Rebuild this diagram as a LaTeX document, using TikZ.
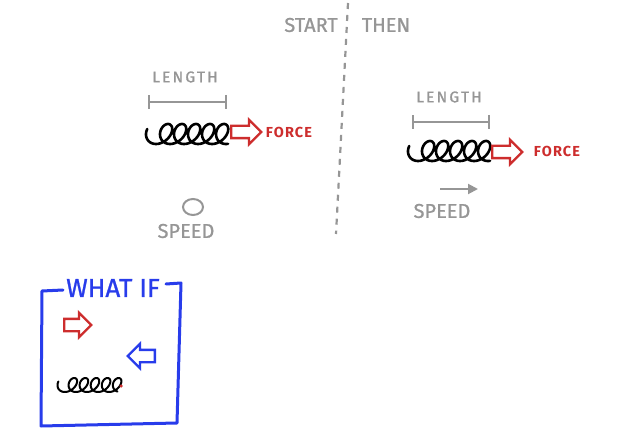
\documentclass[tikz,border=0pt]{standalone}
\usepackage{fontspec}
\setmainfont{Fira Sans}
\newfontfamily\hand[FakeBold=1]{Fira Sans}
\newfontfamily\widehand[LetterSpace=14, FakeBold=1]{Fira Sans}
\newfontfamily\tighthand[LetterSpace=8]{Fira Sans}
\usepackage{tikz}
\usetikzlibrary{arrows.meta}
\usetikzlibrary{shapes.arrows}
\usetikzlibrary{shapes.geometric}

\definecolor{pencil}{RGB}{150,150,150}
\definecolor{marker}{RGB}{205,45,45}
\definecolor{ink}{RGB}{40,60,235}

\tikzset{
  bigword/.style   ={font=\hand\fontsize{20}{20}\selectfont, text=pencil, inner sep=0pt},
  smallword/.style ={font=\widehand\fontsize{15.5}{15.5}\selectfont, text=pencil, inner sep=0pt},
  forceword/.style ={font=\tighthand\bfseries\fontsize{14.5}{14.5}\selectfont, text=marker, inner sep=0pt},
  spring/.style    ={draw=black, line width=2.6pt, line cap=round, line join=round, smooth, samples=260},
  push/.style      ={single arrow, draw=marker, line width=2.4pt, minimum height=30pt,
                     minimum width=24pt, inner sep=5pt, single arrow head extend=6pt, anchor=tail},
  ruler/.style     ={draw=pencil, line width=2.4pt, {Bar[width=14pt]}-{Bar[width=14pt]}},
  frame/.style     ={draw=ink, line width=3pt, line join=round, line cap=round},
}

\begin{document}
\begin{tikzpicture}[x=1pt, y=-1pt]
   \useasboundingbox (0,0) rectangle (629,438);

   \node [bigword] (start) at (311,25) {START};
   \node [bigword] (then)  at (386,25) {THEN};
   \coordinate (cuttop) at (348,3);
   \coordinate (cutbot) at (336,234);
   \draw [pencil, line width=2.2pt, dash pattern=on 6pt off 6pt] (cuttop) -- (cutbot);

   \node [smallword] (lengthA) at (185,77) {LENGTH};
   \coordinate (barAl) at (148,102);
   \coordinate (barAr) at (227,102);
   \draw [ruler] (barAl) -- (barAr);
   \draw [spring] plot [domain=240:2170] ({155+(\x-270)/25.7+9*sin(\x)-2.5*cos(\x)}, {134+10*cos(\x)});
   \node [push] (pushA) at (230,132) {};
   \node [forceword] (forceA) at (289,132) {FORCE};
   \node [draw=pencil, line width=2pt, ellipse, minimum width=20pt, minimum height=16pt, inner sep=0pt] (still) at (193,207) {};
   \node [bigword] (speedA) at (186,231) {SPEED};

   \node [smallword] (lengthB) at (449,97) {LENGTH};
   \coordinate (barBl) at (412,122);
   \coordinate (barBr) at (490,122);
   \draw [ruler] (barBl) -- (barBr);
   \draw [spring] plot [domain=240:2170] ({417+(\x-270)/25.7+9*sin(\x)-2.5*cos(\x)}, {151+10*cos(\x)});
   \node [push] (pushB) at (491,152) {};
   \node [forceword] (forceB) at (557,151) {FORCE};
   \coordinate (moveBl) at (440,189);
   \coordinate (moveBr) at (478,189);
   \draw [pencil, line width=2pt, -{Triangle[length=10pt, width=10pt]}] (moveBl) -- (moveBr);
   \node [bigword] (speedB) at (442,211) {SPEED};

   \node [font=\hand\fontsize{26}{26}\selectfont, text=ink, inner sep=0pt] (whatif) at (113,288) {WHAT IF};
   \coordinate (gapl) at (63,290);
   \coordinate (tl)   at (42,291);
   \coordinate (bl)   at (41,426);
   \coordinate (br)   at (177,423);
   \coordinate (tr)   at (181,283);
   \coordinate (gapr) at (166,284);
   \draw [frame] (gapl) -- (tl) -- (bl) -- (br) -- (tr) -- (gapr);
   \node [push, minimum height=27pt, minimum width=21pt] (pushC) at (63,325) {};
   \node [push, draw=ink, minimum height=27pt, minimum width=21pt, shape border rotate=180] (pushD) at (156,356) {};
   \draw [spring, line width=2pt] plot [domain=240:2140] ({64+(\x-270)/32.5+6.5*sin(\x)-2*cos(\x)}, {385+7*cos(\x)});
   \node [circle, fill=marker, inner sep=0pt, minimum size=3.5pt] (tipC) at (121,386) {};
\end{tikzpicture}
\end{document}
